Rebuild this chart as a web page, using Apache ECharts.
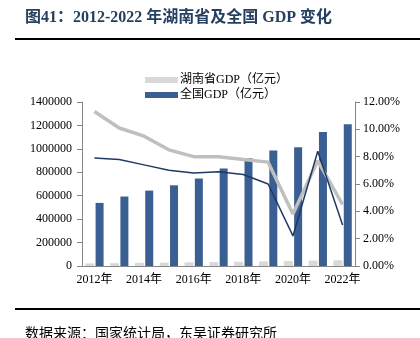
<!DOCTYPE html>
<html><head><meta charset="utf-8">
<script src="https://cdn.jsdelivr.net/npm/echarts@6/dist/echarts.min.js"></script>
<style>html,body{margin:0;padding:0;background:#fff}#c{width:420px;height:338px}</style>
</head><body><div id="c"></div>
<script>
const years = ['2012年','2013年','2014年','2015年','2016年','2017年','2018年','2019年','2020年','2021年','2022年'];
const hunanGDP = [22154, 24502, 27037, 28902, 31551, 33903, 36426, 39752, 41781, 46063, 48670];
const chinaGDP = [538580, 592963, 643563, 688858, 746395, 832036, 919281, 986515, 1013567, 1143670, 1210207];
const hunanGrowth = [11.3, 10.1, 9.5, 8.5, 8.0, 8.0, 7.8, 7.6, 3.8, 7.7, 4.5];
const chinaGrowth = [7.9, 7.8, 7.4, 7.0, 6.8, 6.9, 6.7, 6.0, 2.2, 8.4, 3.0];
const leftTicks = [0, 200000, 400000, 600000, 800000, 1000000, 1200000, 1400000];
const rightTicks = [0, 2, 4, 6, 8, 10, 12];

const serif = "'Liberation Serif','Times New Roman','Noto Sans CJK SC',serif";
const chart = echarts.init(document.getElementById('c'));
chart.setOption({
  animation: false,
  backgroundColor: '#fff',
  textStyle: { fontFamily: serif },
  graphic: [
    { type: 'text', left: 25, top: 10, style: { text: '图41：2012-2022 年湖南省及全国 GDP 变化', font: "bold 16px 'Liberation Serif','Noto Sans CJK SC',serif", fill: '#243f60' } },
    { type: 'rect', shape: { x: 15, y: 38, width: 405, height: 2 }, style: { fill: '#000' } },
    { type: 'rect', shape: { x: 15, y: 308, width: 405, height: 2 }, style: { fill: '#000' } },
    { type: 'text', left: 25, top: 326, style: { text: '数据来源：国家统计局，东吴证券研究所', font: "14px 'Noto Sans CJK SC',serif", fill: '#000' } }
  ],
  legend: {
    orient: 'vertical', left: 140, top: 69, itemWidth: 33, itemHeight: 6, itemGap: 3,
    icon: 'rect',
    data: ['湖南省GDP（亿元）', '全国GDP（亿元）'],
    textStyle: { fontSize: 12, color: '#000', fontFamily: serif, padding: [0,0,0,-3] }
  },
  grid: { left: 82, right: 65, top: 102, bottom: 72 },
  xAxis: {
    type: 'category', data: years,
    axisLine: { lineStyle: { color: '#868686' } },
    axisTick: { lineStyle: { color: '#868686' } },
    axisLabel: { interval: 1, color: '#000', fontSize: 12, margin: 8, fontFamily: serif }
  },
  yAxis: [
    { type: 'value', min: leftTicks[0], max: leftTicks[leftTicks.length-1], interval: 200000,
      axisLine: { show: true, lineStyle: { color: '#868686' } },
      axisTick: { show: true, lineStyle: { color: '#868686' } },
      splitLine: { show: false },
      axisLabel: { color: '#000', fontSize: 12, margin: 10, fontFamily: serif, formatter: v => String(v) } },
    { type: 'value', min: rightTicks[0], max: rightTicks[rightTicks.length-1], interval: 2,
      axisLine: { show: true, lineStyle: { color: '#868686' } },
      axisTick: { show: true, lineStyle: { color: '#868686' } },
      splitLine: { show: false },
      axisLabel: { color: '#000', fontSize: 12, margin: 8, fontFamily: serif, formatter: v => v.toFixed(2) + '%' } }
  ],
  series: [
    { name: '湖南省GDP（亿元）', type: 'bar', data: hunanGDP, barWidth: 9, barGap: '15%', itemStyle: { color: '#d9d9d9' }, z: 2 },
    { name: '全国GDP（亿元）', type: 'bar', data: chinaGDP, barWidth: 8, itemStyle: { color: '#3a5f92' }, z: 2 },
    { name: '湖南省增速', type: 'line', yAxisIndex: 1, data: hunanGrowth, symbol: 'none', lineStyle: { color: '#bfbfbf', width: 3.5 }, z: 3 },
    { name: '全国增速', type: 'line', yAxisIndex: 1, data: chinaGrowth, symbol: 'none', lineStyle: { color: '#1f3864', width: 1.5 }, z: 4 }
  ]
});
</script></body></html>
